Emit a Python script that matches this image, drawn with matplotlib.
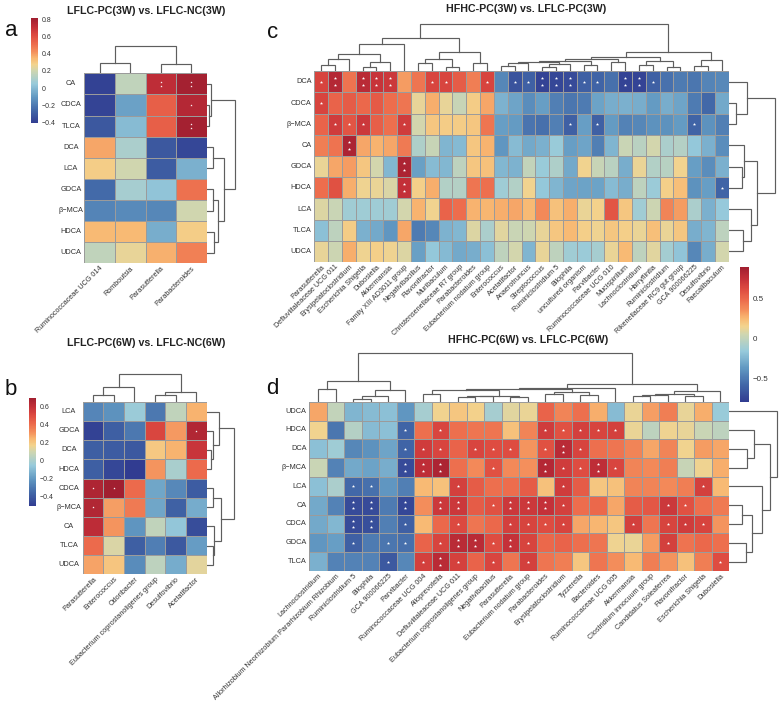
import matplotlib
matplotlib.use("Agg")
import matplotlib.pyplot as plt
from matplotlib.colors import LinearSegmentedColormap

plt.rcParams['font.family'] = ['Liberation Sans', 'DejaVu Sans']
W, H = 783, 707

# ---------- panel a ----------
ROWS_A = ["CA", "CDCA", "TLCA", "DCA", "LCA", "GDCA", "β−MCA", "HDCA", "UDCA"]
COLS_A = ["Ruminococcaceae UCG 014", "Romboutsia", "Parasutterella", "Parabacteroides"]
VALS_A = [
    [-.39, .16, .72, .80],
    [-.38, -.08, .55, .75],
    [-.31, .00, .55, .80],
    [.38, .10, -.31, -.37],
    [.29, .20, -.30, -.03],
    [-.25, .09, .03, .50],
    [-.17, -.15, -.16, .20],
    [.34, .34, -.04, .29],
    [.16, .25, .36, .46],
]
SIG_A = [(0, 2, 2), (0, 3, 2), (1, 3, 1), (2, 3, 2)]
COLTREE_A = (27.7, (10, 0, 1), (9, 2, 3))
ROWTREE_A = (28, (4, 0, (2, 1, 2)), (17, (6.7, 3, 4), (11, (6.7, 5, 6), (7.7, 7, 8))))

# ---------- panel b ----------
ROWS_B = ["LCA", "GDCA", "DCA", "HDCA", "CDCA", "β−MCA", "CA", "TLCA", "UDCA"]
COLS_B = ["Parasutterella", "Enterococcus", "Odoribacter",
          "Eubacterium coprostanoligenes group", "Desulfovibrio", "Acetatifactor"]
VALS_B = [
    [-.26, -.22, -.04, -.30, .06, .25],
    [-.48, -.38, -.30, .52, .30, .65],
    [-.38, -.39, -.40, .20, .25, .58],
    [-.38, -.46, -.50, .31, .00, .41],
    [.66, .70, .41, -.16, -.25, -.39],
    [.65, .29, .37, -.16, -.37, -.14],
    [.62, .31, -.21, .06, -.06, -.44],
    [.41, .12, -.38, -.28, -.40, -.19],
    [.28, .21, -.24, .05, -.14, .14],
]
SIG_B = [(1, 5, 1), (4, 0, 1), (4, 1, 1), (5, 0, 1)]
COLTREE_B = (27.7, (15, (7.3, 0, 1), 2), (10.3, (7.3, 3, 4), 5))
ROWTREE_B = (27.7, (12.3, 0, (6, 1, (4, 2, 3))), (14, (6.7, 4, 5), (7.7, 6, (6, 7, 8))))

# ---------- panel c ----------
ROWS_C = ["DCA", "CDCA", "β−MCA", "CA", "GDCA", "HDCA", "LCA", "TLCA", "UDCA"]
COLS_C = ["Parasutterella", "Defluviitaleaceae UCG 011", "Erysipelatoclostridium",
          "Escherichia Shigella", "Dubosiella", "Akkermansia", "Family XIII AD3011 group",
          "Negativibacillus", "Flavonifractor", "Muribaculum", "Christensenellaceae R7 group",
          "Parabacteroides", "Eubacterium nodatum group", "Enterococcus", "Acetatifactor",
          "Anaerotruncus", "Streptococcus", "Ruminiclostridium 5", "Bilophila",
          "uncultured organism", "Parvibacter", "Ruminococcaceae UCG 010", "Mucispirillum",
          "Lachnoclostridium", "Harryflintia", "Ruminiclostridium",
          "Rikenellaceae RC9 gut group", "GCA 900066225", "Desulfovibrio", "Faecalibaculum"]
VALS_C = [
    [.66, .82, .46, .80, .74, .72, .33, .45, .65, .65, .55, .42, .66, -.45, -.68,
     -.62, -.76, -.74, -.72, -.62, -.60, -.55, -.76, -.76, -.62, -.54, -.50, -.52, -.46, -.44],
    [.66, .52, .55, .50, .56, .48, .45, .12, .28, .12, .02, .18, .30, -.26, -.32,
     -.42, -.35, -.48, -.52, -.50, -.33, -.28, -.27, -.28, -.36, -.28, -.32, -.50, -.58, -.30],
    [.52, .70, .58, .72, .54, .47, .70, .06, .20, .18, .18, .20, .45, -.35, -.36,
     -.53, -.55, -.48, -.62, -.35, -.62, -.36, -.47, -.45, -.40, -.40, -.36, -.60, -.40, -.48],
    [.42, .46, .85, .30, .27, .30, .43, -.07, .02, -.25, -.23, .20, .27, -.38, -.22,
     -.30, -.27, -.15, -.35, -.32, -.48, -.25, .03, -.03, .06, -.08, -.05, -.17, -.27, -.42],
    [.13, .30, .33, .20, .06, -.24, .85, -.34, -.22, -.24, -.02, .20, .22, -.24, -.26,
     .00, -.15, -.07, -.30, .15, .02, -.03, -.28, .13, -.06, -.04, .15, -.35, -.42, -.27],
    [.48, .60, .28, .14, .13, .08, .76, .17, .28, -.06, -.05, .45, .47, -.13, -.06,
     .15, -.17, -.25, -.32, -.33, -.33, -.22, -.28, -.02, -.14, .17, .23, -.40, -.35, -.60],
    [.09, .03, -.12, -.13, -.13, -.12, .06, .27, .15, .52, .48, .27, .26, .28, .30,
     .25, .38, .22, .28, .13, .16, .58, .20, -.12, .04, .40, .33, -.08, -.27, -.16],
    [-.20, -.02, .18, -.27, -.30, -.38, .30, -.50, -.45, -.26, -.24, .09, -.08, .10, .03,
     .05, .12, .20, .25, .17, .14, .20, .17, .13, .23, .13, .20, -.28, -.25, -.02],
    [.12, .04, .28, .14, .17, .14, .09, -.34, -.17, -.23, -.30, -.28, -.20, -.01, .06,
     -.25, .12, -.01, -.12, -.14, -.10, .13, .25, -.02, .10, -.11, -.18, -.45, -.28, .06],
]
SIG_C = [(0, 0, 1), (0, 1, 2), (0, 3, 2), (0, 4, 2), (0, 5, 2), (0, 8, 1), (0, 9, 1), (0, 12, 1),
         (0, 14, 1), (0, 15, 1), (0, 16, 2), (0, 17, 2), (0, 18, 2), (0, 19, 1), (0, 20, 1),
         (0, 22, 2), (0, 23, 2), (0, 24, 1), (1, 0, 1), (2, 1, 1), (2, 2, 1), (2, 3, 1), (2, 6, 1),
         (2, 18, 1), (2, 20, 1), (2, 27, 1), (3, 2, 2), (4, 6, 2), (5, 6, 2), (5, 29, 1)]
COLTREE_C = (47,
             (33,
              (27, (17.3, (12, (6.3, 0, 1), 2), (9, (4.7, 3, 4), 5)), 6),
              (19, (12.7, (8.7, 7, 8), (4, 9, 10)), (8.7, 11, 12))),
             (19.3,
              (14.7,
               (12, (10.3, (9, (8, (5.3, 13, 14), 15), (7, (4.7, 16, 17), 18)), (6, 19, 20)),
                (9.7, 21, 22)),
               (10.3, (6, 23, 24), (4, 25, 26))),
              (11.7, (5.7, 27, 28), 29)))
ROWTREE_C = (46.7, (18.3, 0, (7, 1, 2)), (28.7, (15, 3, (13, 4, 5)), (22, 6, (14, 7, 8))))

# ---------- panel d ----------
ROWS_D = ["UDCA", "HDCA", "DCA", "β−MCA", "LCA", "CA", "CDCA", "GDCA", "TLCA"]
COLS_D = ["Lachnoclostridium", "Allorhizobium Neorhizobium Pararhizobium Rhizobium",
          "Ruminiclostridium 5", "Bilophila", "GCA 900066225", "Parvibacter",
          "Ruminococcaceae UCG 004", "Alloprevotella", "Defluviitaleaceae UCG 011",
          "Eubacterium coprostanoligenes group", "Negativibacillus", "Parasutterella",
          "Eubacterium nodatum group", "Parabacteroides", "Erysipelatoclostridium",
          "Tyzzerella", "Bacteroides", "Ruminococcaceae UCG 005", "Akkermansia",
          "Clostridium innocuum group", "Candidatus Soleaferrea", "Flavonifractor",
          "Escherichia Shigella", "Dubosiella"]
VALS_D = [
    [.30, .00, -.25, -.22, -.20, -.38, -.10, .15, .20, .16, -.10, .10,
     .13, .52, .40, .47, .28, -.22, .13, .32, .42, .12, .28, -.15],
    [.15, -.52, -.05, -.22, -.20, -.60, .47, .65, .47, .45, .45, .22,
     .40, .70, .60, .68, .66, .68, .13, -.02, .14, .12, .03, -.02],
    [-.20, -.13, -.45, -.40, -.32, -.60, .70, .65, .52, .65, .62, .62,
     .35, .60, .80, .66, .47, .45, .40, .30, .40, .15, .33, .30],
    [.03, -.47, -.30, -.33, -.28, -.72, .78, .85, .47, .38, .60, .38,
     .36, .82, .70, .62, .78, .65, .40, .38, .42, .02, .14, .28],
    [-.20, -.08, -.58, -.55, -.38, -.48, .25, .22, .68, .55, .47, .48,
     .55, .22, .70, .55, .20, .22, .40, .40, .38, .42, .68, .25],
    [-.30, -.47, -.72, -.72, -.50, -.74, .37, .72, .72, .55, .60, .72,
     .72, .75, .68, .48, .50, .30, .55, .57, .72, .60, .47, .43],
    [-.30, -.24, -.72, -.70, -.48, -.62, .25, .50, .63, .45, .50, .68,
     .66, .62, .66, .30, .26, .20, .68, .45, .66, .70, .66, .35],
    [-.38, -.35, -.62, -.50, -.52, -.55, .52, .66, .80, .80, .62, .75,
     .66, .50, .52, .47, .45, .14, .13, .33, .68, .46, .50, .47],
    [-.27, -.47, -.47, -.47, -.65, -.45, .68, .80, .67, .52, .65, .45,
     .68, .45, .42, .20, .45, .37, .25, .42, .35, .22, .42, .62],
]
SIG_D = [(1, 5, 1), (1, 7, 1), (1, 13, 1), (1, 14, 1), (1, 15, 1), (1, 16, 1), (1, 17, 1),
         (2, 5, 1), (2, 6, 1), (2, 7, 1), (2, 9, 1), (2, 10, 1), (2, 11, 1), (2, 13, 1), (2, 14, 2), (2, 15, 1),
         (3, 5, 2), (3, 6, 2), (3, 7, 2), (3, 10, 1), (3, 13, 2), (3, 14, 1), (3, 15, 1), (3, 16, 2), (3, 17, 1),
         (4, 2, 1), (4, 3, 1), (4, 8, 1), (4, 14, 1), (4, 22, 1),
         (5, 2, 2), (5, 3, 2), (5, 5, 2), (5, 7, 2), (5, 8, 2), (5, 10, 1), (5, 11, 2), (5, 12, 2), (5, 13, 2), (5, 14, 1), (5, 20, 1), (5, 21, 1),
         (6, 2, 2), (6, 3, 2), (6, 5, 1), (6, 8, 1), (6, 11, 1), (6, 12, 1), (6, 13, 1), (6, 14, 1), (6, 18, 1), (6, 20, 1), (6, 21, 1), (6, 22, 1),
         (7, 2, 1), (7, 4, 1), (7, 5, 1), (7, 7, 1), (7, 8, 2), (7, 9, 2), (7, 10, 1), (7, 11, 2), (7, 12, 1), (7, 20, 1),
         (8, 4, 1), (8, 6, 1), (8, 7, 2), (8, 8, 1), (8, 10, 1), (8, 12, 1), (8, 23, 1)]
COLTREE_D = (48.3,
             (20.7, (12.3, 0, 1), (11.7, (6, (2.3, 2, 3), 4), 5)),
             (17.3,
              (14,
               (12.3,
                (11.7, (7.3, 6, 7), (6, (5.3, (4.3, 8, 9), 10), (5, 11, 12))),
                (10, (8, 13, 14), (6.7, 15, 16))),
               17),
              (10.3, (8, (6.7, (6, 18, 19), 20), (5.7, 21, 22)), 23)))
ROWTREE_D = (47.7, 0, (41.3, (25.3, 1, (17.7, 2, 3)),
                       (33, 4, (23.3, (12.7, 5, 6), (16.7, 7, 8)))))

RANGE_A = (-.41, .81)
RANGE_B = (-.50, .70)
RANGE_CD = (-.795, .90)

cmap = LinearSegmentedColormap.from_list("bile", [
    (0, "#313c91"), (.125, "#4268a8"), (.25, "#6299c2"), (.375, "#97cadb"), (.5, "#cfd6b0"),
    (.56, "#f3d38d"), (.62, "#f8b872"), (.68, "#f4905c"), (.76, "#ec6a4c"), (.84, "#dd4a40"),
    (.92, "#c22f38"), (1, "#a11f30")])

fig = plt.figure(figsize=(W / 100, H / 100), dpi=100)
TXT = "#333333"
LINE = "#5e5e5e"


def axes_px(x0, y0, x1, y1):
    ax = fig.add_axes([x0 / W, 1 - y1 / H, (x1 - x0) / W, (y1 - y0) / H])
    return ax


def tree_coords(node, segs):
    if not isinstance(node, tuple):
        return node + .5, 0
    h, a, b = node
    pa, ha = tree_coords(a, segs)
    pb, hb = tree_coords(b, segs)
    segs.append(((pa, pa, pb, pb), (ha, h, h, hb)))
    return (pa + pb) / 2, h


def heatmap(box, rows, cols, vals, sig, rng, coltree, rowtree, dot=6, gap=.17,
            row_ha='right', row_x=None, lab_dx=2.5, lab_dy=4):
    x0, y0, x1, y1 = box
    ax = axes_px(x0, y0, x1, y1)
    m = ax.pcolormesh(vals, cmap=cmap, vmin=rng[0], vmax=rng[1],
                      edgecolors="#9b9b9b", linewidth=.7)
    ax.set_xlim(0, len(cols))
    ax.set_ylim(len(rows), 0)
    ax.axis("off")
    for r, c, n in sig:
        ys = [r + .5] if n == 1 else [r + .5 - gap, r + .5 + gap]
        ax.scatter([c + .5] * n, ys, s=dot, c="white", marker="*", linewidths=0, zorder=3)

    for r, name in enumerate(rows):
        py = y0 + (y1 - y0) * (r + .5) / len(rows)
        fig.text((row_x if row_x else x0 - 3) / W, 1 - py / H, name, ha=row_ha,
                 va="center", fontsize=5.3, color=TXT)
    for c, name in enumerate(cols):
        px = x0 + (x1 - x0) * (c + .5) / len(cols)
        fig.text((px + lab_dx) / W, 1 - (y1 + lab_dy) / H, name, rotation=45, ha="right",
                 va="center", rotation_mode="anchor", fontsize=5.2, color=TXT)

    top = axes_px(x0, y0 - 50, x1, y0)
    top.set_xlim(0, len(cols))
    top.set_ylim(0, 50)
    top.axis("off")
    segs = []
    tree_coords(coltree, segs)
    for xs, ys in segs:
        top.plot(xs, ys, color=LINE, lw=.85, solid_joinstyle="miter")

    side = axes_px(x1, y0, x1 + 50, y1)
    side.set_ylim(len(rows), 0)
    side.set_xlim(0, 50)
    side.axis("off")
    segs = []
    tree_coords(rowtree, segs)
    for ys, xs in segs:
        side.plot(xs, ys, color=LINE, lw=.85, solid_joinstyle="miter")
    return m


def colorbar(mesh, box, ticks, labels, size):
    cax = axes_px(*box)
    cb = fig.colorbar(mesh, cax=cax)
    cb.set_ticks(ticks)
    cb.set_ticklabels(labels)
    cb.outline.set_visible(False)
    cb.ax.tick_params(length=0, labelsize=size, pad=2.5, labelcolor=TXT)


ma = heatmap((84.3, 73.3, 206.7, 263.3), ROWS_A, COLS_A, VALS_A, SIG_A, RANGE_A,
             COLTREE_A, ROWTREE_A, dot=3, gap=.08, row_ha='center', row_x=71)
mb = heatmap((82.7, 402, 206.7, 574.3), ROWS_B, COLS_B, VALS_B, SIG_B, RANGE_B,
             COLTREE_B, ROWTREE_B, dot=3, row_ha='center', row_x=69)
mc = heatmap((314.3, 71.3, 728.7, 262), ROWS_C, COLS_C, VALS_C, SIG_C, RANGE_CD,
             COLTREE_C, ROWTREE_C, dot=6, row_x=311.7)
md = heatmap((309.3, 401.7, 729, 571), ROWS_D, COLS_D, VALS_D, SIG_D, RANGE_CD,
             COLTREE_D, ROWTREE_D, dot=6, row_x=306.7)

colorbar(ma, (31.3, 18.3, 38.3, 123.3), [-.4, -.2, 0, .2, .4, .6, .8],
         ["−0.4", "−0.2", "0", "0.2", "0.4", "0.6", "0.8"], 5)
colorbar(mb, (29, 397.7, 36, 506), [-.4, -.2, 0, .2, .4, .6],
         ["−0.4", "−0.2", "0", "0.2", "0.4", "0.6"], 5)
colorbar(mc, (739.7, 267, 749, 401.7), [-.5, 0, .5], ["−0.5", "0", "0.5"], 5.8)

TITLES = [("LFLC-PC(3W) vs. LFLC-NC(3W)", 146, 11.5), ("LFLC-PC(6W) vs. LFLC-NC(6W)", 146, 343),
          ("HFHC-PC(3W) vs. LFLC-PC(3W)", 526, 9.5), ("HFHC-PC(6W) vs. LFLC-PC(6W)", 528, 340)]
for t, x, y in TITLES:
    fig.text(x / W, 1 - y / H, t, ha="center", va="center", fontsize=7.7, fontweight="bold", color="#222222")
LETTERS = [("a", 11.5, 30), ("b", 10.5, 390), ("c", 273, 33), ("d", 272, 388)]
for t, x, y in LETTERS:
    fig.text(x / W, 1 - y / H, t, ha="center", va="center", fontsize=16, color="#111111")

fig.savefig("out.png", dpi=100)
